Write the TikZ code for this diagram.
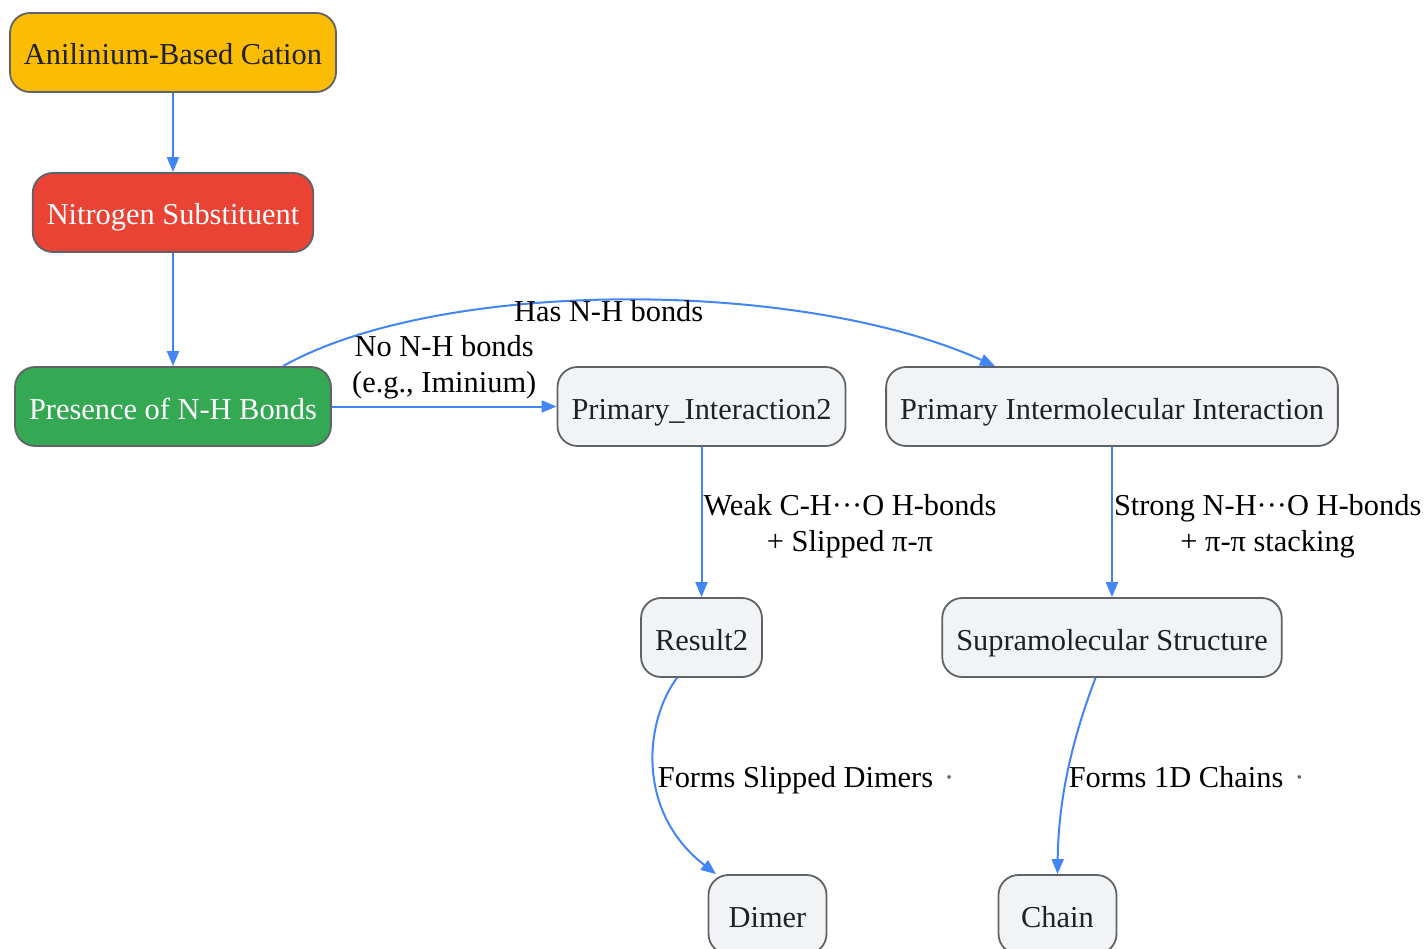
\documentclass[tikz,border=0pt]{standalone}
\usepackage{fontspec}
\setmainfont{Liberation Serif}
\usetikzlibrary{arrows.meta}

\definecolor{cationyellow}{HTML}{FBBC04}
\definecolor{substred}{HTML}{EA4335}
\definecolor{bondgreen}{HTML}{34A853}
\definecolor{plaingray}{HTML}{F1F3F4}
\definecolor{rimgray}{HTML}{5F6368}
\definecolor{inkgray}{HTML}{202124}
\definecolor{flowblue}{HTML}{4285F4}

\begin{document}
\begin{tikzpicture}[->,>={Triangle[length=15pt,width=12pt]},shorten >=0pt,
                    line width=2pt,font=\fontsize{30.4pt}{36pt}\selectfont]
  \tikzstyle{box}=[draw=rimgray,fill=plaingray,text=inkgray,rounded corners=20pt,
                   minimum height=79pt,minimum width=118pt,inner xsep=14pt,
                   text height=25pt,text depth=0pt,line width=1.8pt]
  \tikzstyle{every edge}=[draw=flowblue,line width=2pt]
  \tikzstyle{link}=[draw=flowblue,line width=2pt]
  \tikzstyle{lbl}=[text=black,align=center,inner sep=1pt]

  \useasboundingbox (0pt,0pt) rectangle (1426pt,-949pt);

  \node[box,fill=cationyellow] (A) at (173pt,-52.5pt) {Anilinium-Based Cation};
  \node[box,fill=substred,text=white] (N) [node distance=160pt,below of=A] {Nitrogen Substituent};
  \node[box,fill=bondgreen,text=white] (P) [node distance=194pt,below of=N] {Presence of N-H Bonds};
  \node[box] (I) [node distance=528.5pt,right of=P] {Primary\_Interaction2};
  \node[box] (M) [node distance=410.5pt,right of=I] {Primary Intermolecular Interaction};
  \node[box] (R) [node distance=231pt,below of=I] {Result2};
  \node[box] (S) [node distance=231pt,below of=M] {Supramolecular Structure};
  \node[box] (D) [node distance=277pt,below of=R,xshift=66pt] {Dimer};
  \node[box] (C) [node distance=277pt,below of=S,xshift=-54.5pt] {Chain};

  % ends of the curved links
  \coordinate (Pout) at ([xshift=110pt]P.north);
  \coordinate (Min)  at ([xshift=-117pt]M.north);
  \coordinate (Rout) at ([xshift=-24.5pt]R.south);
  \coordinate (Din)  at ([xshift=-51.5pt]D.north);
  \coordinate (Sout) at ([xshift=-16.5pt]S.south);

  \path (A) edge (N)
        (N) edge (P)
        (P) edge node[lbl,anchor=south,yshift=5pt] {No N-H bonds\\(e.g., Iminium)} (I)
        (I) edge node[lbl,anchor=west,yshift=-4pt] {Weak C-H···O H-bonds\\+ Slipped π-π} (R)
        (M) edge node[lbl,anchor=west,yshift=-4pt] {Strong N-H···O H-bonds\\+ π-π stacking} (S);

  \draw[link] (Pout) .. controls +(157pt,88pt) and +(-195pt,88pt) .. (Min)
        node[lbl,pos=0.48,yshift=-11pt] {Has N-H bonds};
  \draw[link] (Rout) .. controls +(-32pt,-43pt) and +(-81pt,63pt) .. (Din)
        node[lbl,pos=0.555,anchor=west] {Forms Slipped Dimers\hspace{11pt}{\color{rimgray}·}};
  \draw[link] (Sout) .. controls +(-20pt,-53pt) and +(1pt,83pt) .. (C.north)
        node[lbl,pos=0.565,anchor=west] {Forms 1D Chains\hspace{11pt}{\color{rimgray}·}};
\end{tikzpicture}
\end{document}
